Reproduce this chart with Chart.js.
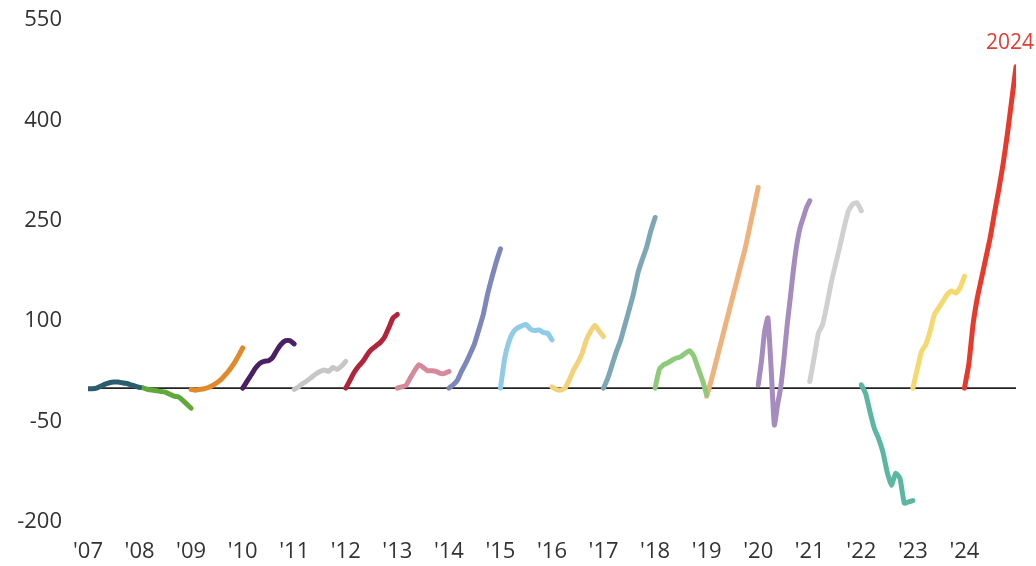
<!DOCTYPE html>
<html>
<head>
<meta charset="utf-8">
<script src="https://cdn.jsdelivr.net/npm/chart.js@4"></script>
<style>
  html, body { margin: 0; padding: 0; background: #fff; }
  #wrap { width: 1036px; height: 566px; }
</style>
</head>
<body>
<div id="wrap"><canvas id="yearChart"></canvas></div>
<script>
// one line per calendar year, cumulative value within the year
const years = [2007, 2008, 2009, 2010, 2011, 2012, 2013, 2014, 2015, 2016, 2017, 2018, 2019, 2020, 2021, 2022, 2023, 2024];
const yearLabels = ["'07", "'08", "'09", "'10", "'11", "'12", "'13", "'14", "'15", "'16", "'17", "'18", "'19", "'20", "'21", "'22", "'23", "'24"];

const v2007 = [-1, -1, 0, 3, 6, 8, 9, 9, 8, 7, 5, 3, 1];
const v2008 = [1, 0, -2, -3, -4, -5, -6, -9, -12, -13, -18, -24, -30];
const v2009 = [-2, -3, -2, -1, 1, 4, 8, 13, 20, 28, 37, 48, 60];
const v2010 = [0, 10, 20, 30, 37, 40, 41, 46, 57, 66, 71, 71, 66];
const v2011 = [-2, 2, 7, 11, 16, 21, 25, 27, 25, 31, 28, 33, 40];
const v2012 = [0, 12, 24, 33, 40, 50, 58, 63, 68, 76, 90, 105, 110];
const v2013 = [0, 2, 4, 15, 26, 35, 31, 26, 26, 25, 22, 22, 25];
const v2014 = [0, 5, 12, 26, 38, 52, 67, 88, 110, 140, 165, 188, 208];
const v2015 = [0, 45, 70, 84, 90, 93, 95, 88, 86, 87, 83, 82, 72];
const v2016 = [2, -2, -3, 0, 12, 27, 38, 52, 72, 85, 94, 85, 77];
const v2017 = [0, 15, 35, 55, 72, 95, 118, 142, 172, 192, 210, 235, 255];
const v2018 = [0, 28, 35, 38, 42, 45, 47, 52, 56, 48, 30, 12, -10];
const v2019 = [-12, 10, 35, 60, 85, 110, 135, 160, 185, 210, 240, 270, 300];
const v2020 = [5, 40, 85, 105, 30, -55, -25, 2, 45, 95, 137, 180, 215, 240, 255, 270, 280];
const v2021 = [10, 45, 82, 95, 125, 158, 185, 212, 240, 265, 275, 277, 265];
const v2022 = [5, -8, -35, -60, -75, -95, -125, -145, -127, -135, -172, -170, -168];
const v2023 = [0, 28, 55, 65, 85, 110, 120, 130, 140, 145, 142, 150, 167];
const v2024 = [0, 35, 95, 135, 165, 195, 225, 262, 297, 335, 380, 430, 480];

const seriesValues = [v2007, v2008, v2009, v2010, v2011, v2012, v2013, v2014, v2015,
    v2016, v2017, v2018, v2019, v2020, v2021, v2022, v2023, v2024];

const lineColors = ['#2b5d6e', '#5fa83a', '#e28a2b', '#4a1f63', '#c6c6c6', '#b3243a',
    '#d5899b', '#7d87bb', '#90cbe8', '#f3d27a', '#7ea7b5', '#8fc97a', '#efb27c',
    '#a68bbf', '#d0d0d0', '#5bb7a2', '#f5d96f', '#e8392b'];

const yMin = -200, yMax = 550, yStep = 150;
const tickFont = { family: "'Open Sans', 'Noto Sans', sans-serif", size: 22 };

// points of a year are spread evenly across that year on the x axis
const datasets = years.map((yr, k) => {
    const vals = seriesValues[k];
    return {
        label: String(yr),
        data: vals.map((v, i) => ({ x: yr + i / (vals.length - 1), y: v })),
        borderColor: lineColors[k],
        borderWidth: 5,
        pointRadius: 0,
        tension: 0.15,
        borderCapStyle: 'round',
        borderJoinStyle: 'round',
        fill: false
    };
});

const zeroLine = {
    id: 'zeroLine',
    beforeDatasetsDraw(chart) {
        const { ctx, chartArea, scales } = chart;
        const y = scales.y.getPixelForValue(0);
        ctx.save();
        ctx.strokeStyle = '#222';
        ctx.lineWidth = 1.6;
        ctx.beginPath();
        ctx.moveTo(chartArea.left, y);
        ctx.lineTo(chartArea.right, y);
        ctx.stroke();
        ctx.restore();
    }
};

const lastYearLabel = {
    id: 'lastYearLabel',
    afterDatasetsDraw(chart) {
        const meta = chart.getDatasetMeta(chart.data.datasets.length - 1);
        const pt = meta.data[meta.data.length - 1];
        const { ctx } = chart;
        ctx.save();
        ctx.fillStyle = '#e23d35';
        ctx.font = "21px 'Open Sans', 'Noto Sans', sans-serif";
        ctx.textAlign = 'right';
        ctx.textBaseline = 'bottom';
        ctx.fillText(String(years[years.length - 1]), pt.x + 18, pt.y - 13);
        ctx.restore();
    }
};

new Chart(document.getElementById('yearChart'), {
    type: 'line',
    data: { datasets: datasets },
    options: {
        responsive: true,
        maintainAspectRatio: false,
        animation: false,
        layout: { padding: { top: 20, right: 20, left: 0, bottom: 0 } },
        plugins: {
            legend: { display: false },
            tooltip: { enabled: false }
        },
        scales: {
            x: {
                type: 'linear',
                min: years[0],
                max: years[years.length - 1] + 1,
                grid: { display: false, drawTicks: false },
                border: { display: false },
                afterBuildTicks: (scale) => { scale.ticks = years.map(v => ({ value: v })); },
                afterFit: (scale) => { scale.height = 44; },
                ticks: {
                    autoSkip: false,
                    maxRotation: 0,
                    padding: 17,
                    color: '#333',
                    font: tickFont,
                    callback: (value, index) => yearLabels[index]
                }
            },
            y: {
                min: yMin,
                max: yMax,
                grid: { display: false, drawTicks: false },
                border: { display: false },
                afterFit: (scale) => {
                    scale.width = 88;
                    scale.paddingTop = 12;
                    scale.paddingBottom = 12;
                },
                ticks: {
                    stepSize: yStep,
                    padding: 26,
                    color: '#333',
                    font: tickFont
                }
            }
        }
    },
    plugins: [zeroLine, lastYearLabel]
});
</script>
</body>
</html>
